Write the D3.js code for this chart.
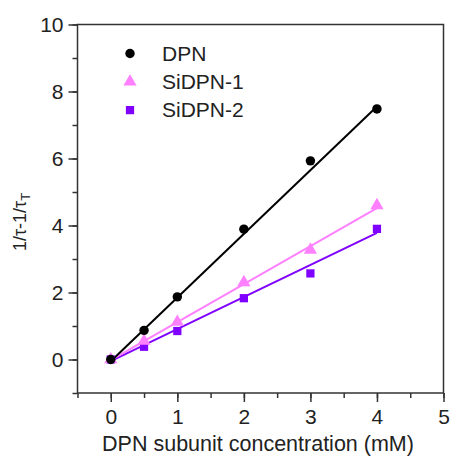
<!DOCTYPE html>
<html>
<head>
<meta charset="utf-8">
<script src="https://cdn.jsdelivr.net/npm/d3@7"></script>
<style>
  body { margin: 0; background: #fff; }
  text { font-family: "Liberation Sans", Arial, sans-serif; fill: #222; }
</style>
</head>
<body>
<div id="chart"></div>
<script>
// concentrations (mM)
var conc = [0, 0.5, 1, 2, 3, 4];
var dpn = [0, 0.87, 1.87, 3.89, 5.93, 7.48];
var sidpn1 = [0, 0.55, 1.12, 2.3, 3.27, 4.6];
var sidpn2 = [0, 0.38, 0.85, 1.83, 2.57, 3.9];

// fitted lines, end points
var fitX = [0, 4];
var fitDpn = [-0.05, 7.55];
var fitSi1 = [-0.02, 4.52];
var fitSi2 = [-0.05, 3.78];

var seriesNames = ["DPN", "SiDPN-1", "SiDPN-2"];
var xTicks = [0, 1, 2, 3, 4, 5];
var yTicks = [0, 2, 4, 6, 8, 10];

var width = 450, height = 457;
var svg = d3.select("#chart").append("svg")
    .attr("width", width)
    .attr("height", height);

var x = d3.scaleLinear().domain([-0.5, 5]).range([77.5, 443.5]);
var y = d3.scaleLinear().domain([-1, 10]).range([393, 24.5]);

var axisColor = "#333";

// frame
svg.append("rect")
    .attr("x", x(-0.5)).attr("y", y(10))
    .attr("width", x(5) - x(-0.5))
    .attr("height", y(-1) - y(10))
    .attr("fill", "none")
    .attr("stroke", axisColor)
    .attr("stroke-width", 1.5);

function styleAxis(g) {
    g.select(".domain").remove();
    g.selectAll("line").attr("stroke", axisColor).attr("stroke-width", 1.5);
    g.selectAll("text").style("font-size", "21px").attr("fill", "#222");
}

// minor ticks first
svg.append("g")
    .attr("transform", "translate(0," + y(-1) + ")")
    .call(d3.axisBottom(x).tickValues(d3.range(-0.5, 5.01, 0.5)).tickSize(5).tickFormat(""))
    .call(styleAxis);
svg.append("g")
    .attr("transform", "translate(" + x(-0.5) + ",0)")
    .call(d3.axisLeft(y).tickValues(d3.range(-1, 10.01, 1)).tickSize(5).tickFormat(""))
    .call(styleAxis);

svg.append("g")
    .attr("transform", "translate(0," + y(-1) + ")")
    .call(d3.axisBottom(x).tickValues(xTicks).tickSize(9).tickPadding(7).tickFormat(d3.format("d")))
    .call(styleAxis);
svg.append("g")
    .attr("transform", "translate(" + x(-0.5) + ",0)")
    .call(d3.axisLeft(y).tickValues(yTicks).tickSize(9).tickPadding(5).tickFormat(d3.format("d")))
    .call(styleAxis);

// axis titles
svg.append("text")
    .attr("x", 258).attr("y", 451)
    .attr("text-anchor", "middle")
    .style("font-size", "21.5px")
    .text("DPN subunit concentration (mM)");

var yl = svg.append("text")
    .attr("transform", "translate(26,222) rotate(-90)")
    .attr("text-anchor", "middle")
    .style("font-size", "18px");
yl.append("tspan").text("1/\u03c4-1/\u03c4");
yl.append("tspan").attr("dy", 4).style("font-size", "13px").text("T");

var colors = ["#000000", "#ff80ff", "#7f00ff"];
var seriesData = [dpn, sidpn1, sidpn2];
var fits = [fitDpn, fitSi1, fitSi2];

var line = d3.line().x(function(d) { return x(d[0]); }).y(function(d) { return y(d[1]); });

// draw order: purple, pink, black on top
[2, 1, 0].forEach(function(i) {
    svg.append("path")
        .datum(d3.zip(fitX, fits[i]))
        .attr("d", line)
        .attr("fill", "none")
        .attr("stroke", colors[i])
        .attr("stroke-width", 2);
});

var symbols = [d3.symbolCircle, d3.symbolTriangle, d3.symbolSquare];
var symSizes = [70, 75, 68];

[2, 1, 0].forEach(function(i) {
    svg.append("g").selectAll("path")
        .data(d3.zip(conc, seriesData[i]))
        .enter().append("path")
        .attr("transform", function(d) { return "translate(" + x(d[0]) + "," + y(d[1]) + ")"; })
        .attr("d", d3.symbol().type(symbols[i]).size(symSizes[i]))
        .attr("fill", colors[i]);
});

// legend
var legend = svg.append("g");
seriesNames.forEach(function(name, i) {
    var ly = 53.5 + i * 28.3;
    legend.append("path")
        .attr("transform", "translate(130," + ly + ")")
        .attr("d", d3.symbol().type(symbols[i]).size(symSizes[i]))
        .attr("fill", colors[i]);
    legend.append("text")
        .attr("x", 162).attr("y", ly + 7)
        .style("font-size", "21px")
        .text(name);
});
</script>
</body>
</html>
